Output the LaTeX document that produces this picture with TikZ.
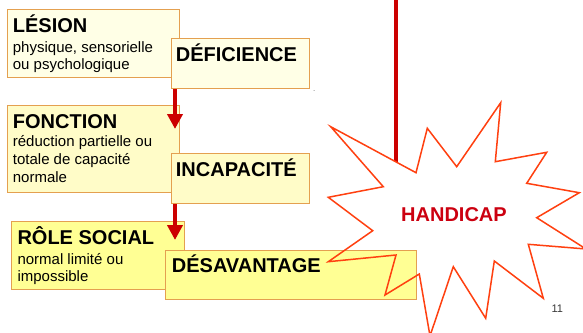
\documentclass[tikz,border=0pt]{standalone}
\usepackage{fontspec}
\setmainfont{Liberation Sans}
\usetikzlibrary{arrows.meta}
\definecolor{creamA}{HTML}{FFFFE6}
\definecolor{creamB}{HTML}{FFFCC8}
\definecolor{creamC}{HTML}{FFFF94}
\definecolor{boxborder}{HTML}{E4A050}
\definecolor{arrowred}{HTML}{CC0000}
\definecolor{starline}{HTML}{FF4010}
\definecolor{handired}{HTML}{CC0010}
\tikzset{
  box/.style={draw=boxborder, line width=1pt, anchor=north west, inner sep=0pt},
  ttl/.style={anchor=base west, inner sep=0pt, font=\fontsize{20}{24}\selectfont\bfseries},
  txt/.style={anchor=base west, inner sep=0pt, font=\fontsize{15}{17}\selectfont},
  redarrow/.style={draw=arrowred, line width=4.5pt, -{Triangle[width=15pt,length=15pt]}},
  starshape/.style={line width=1.5pt, line join=miter, draw=starline}
}
\begin{document}
\begin{tikzpicture}[x=1pt,y=-1pt]
\useasboundingbox (0,0) rectangle (583,332);
\fill[white] (0,0) rectangle (583,332);
% row 1
\node[box, fill=creamA, minimum width=172pt, minimum height=68pt] (lesion) at (7,9) {};
\node[ttl] (lesiont) at (12.7,32.3) {LÉSION};
\node[txt] (lesion1) at (12.7,52.3) {physique, sensorielle};
\node[txt] (lesion2) at (12.7,69.3) {ou psychologique};
\node[box, fill=creamA, minimum width=138pt, minimum height=50pt] (defi) at (171,38) {};
\node[ttl] (defit) at (175.7,61) {DÉFICIENCE};
\node[anchor=base, inner sep=0pt, font=\fontsize{6}{6}\selectfont] (dot) at (314.3,91.5) {.};
% row 2
\node[box, fill=creamB, minimum width=172pt, minimum height=87pt] (fonc) at (7,105) {};
\node[ttl] (fonct) at (12.7,128.3) {FONCTION};
\node[txt] (fonc1) at (12.7,146.5) {réduction partielle ou};
\node[txt] (fonc2) at (12.7,164.5) {totale de capacité};
\node[txt] (fonc3) at (12.7,182.5) {normale};
\coordinate (tip1) at (175,129);
\draw[redarrow] (defi.south west -| tip1) -- (tip1);
\node[box, fill=creamB, minimum width=138pt, minimum height=50pt] (inca) at (171,153) {};
\node[ttl] (incat) at (175.7,176.7) {INCAPACITÉ};
% row 3
\node[box, fill=creamC, minimum width=173pt, minimum height=68pt] (role) at (11,221) {};
\node[ttl] (rolet) at (17.3,244) {RÔLE SOCIAL};
\node[txt] (role1) at (17.3,264.3) {normal limité ou};
\node[txt] (role2) at (17.3,281.7) {impossible};
\coordinate (tip2) at (175,240);
\draw[redarrow] (inca.south west -| tip2) -- (tip2);
% red line
\coordinate (ltop) at (396,-2);
\coordinate (lbot) at (396,163);
\draw[draw=arrowred, line width=4pt] (ltop) -- (lbot);
% star
\def\starpath{(330.7,126.7) -- (416,172.7) -- (427.3,128.3) -- (456.7,166.7) -- (500.7,102.7) -- (495.3,161.7) -- (546.7,152.3) -- (526.7,183.3) -- (579.3,192.7) -- (536.7,217.7) -- (586,249) -- (528.3,244.3) -- (543.3,298.3) -- (494.3,261) -- (485.7,318.3) -- (453.3,266.7) -- (430,336) -- (419.3,274) -- (385,295) -- (396,255) -- (328.3,261.7) -- (372.7,230.7) -- (328.3,197.3) -- (383.3,186.7) -- cycle}
\fill[white] \starpath;
\node[box, fill=creamC, minimum width=251pt, minimum height=49pt] (desa) at (165,250) {};
\node[ttl] (desat) at (171.7,272.7) {DÉSAVANTAGE};
\draw[starshape] \starpath;
\node[inner sep=0pt, text=handired, font=\fontsize{20}{24}\selectfont\bfseries] (handi) at (454,215) {HANDICAP};
\node[inner sep=0pt, text=black!78, font=\fontsize{11}{13}\selectfont] (pnum) at (557.3,308.7) {11};
\end{tikzpicture}
\end{document}
